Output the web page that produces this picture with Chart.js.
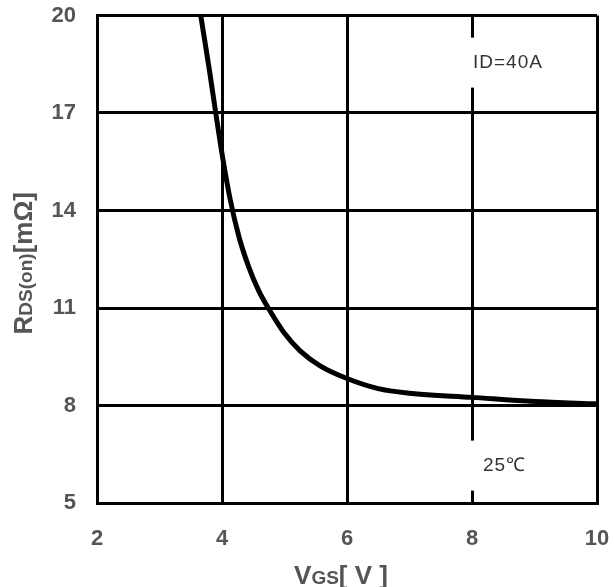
<!DOCTYPE html>
<html>
<head>
<meta charset="utf-8">
<script src="https://cdn.jsdelivr.net/npm/chart.js@4.4.1/dist/chart.umd.min.js"></script>
<style>
  html, body { margin: 0; padding: 0; background: #fff; }
  #wrap { width: 614px; height: 587px; }
</style>
</head>
<body>
<div id="wrap"><canvas id="myChart" width="614" height="587"></canvas></div>
<script>
// VGS [V] vs RDS(on) [mOhm]
var vgs  = [3.66, 3.8, 3.9, 4.0, 4.13, 4.27, 4.43, 4.59, 4.75, 5.0, 5.25, 5.57, 6.0, 6.5, 7.0, 8.0, 9.0, 10.0];
var rdson = [20.0, 18.3, 17.0, 15.75, 14.35, 13.2, 12.25, 11.52, 10.97, 10.22, 9.68, 9.22, 8.83, 8.52, 8.38, 8.25, 8.12, 8.05];

var xTicks = [2, 4, 6, 8, 10];
var yTicks = [5, 8, 11, 14, 17, 20];

var notes = [
  { text: 'ID=40A', x: 8, y: 18.55 },
  { text: '25\u2103', x: 8, y: 6.15 }
];

var labelColor = '#555555';
var fontFam = '"Liberation Sans", Arial, sans-serif';

// axis titles with small subscripts + the two notes over the 8V grid line
var extras = {
  id: 'extras',
  afterDatasetsDraw: function(chart) {
    var ctx = chart.ctx;
    var xs = chart.scales.x, ys = chart.scales.y;
    ctx.save();
    ctx.font = '19px ' + fontFam;
    ctx.letterSpacing = '1px';
    ctx.textBaseline = 'middle';
    notes.forEach(function(n, i) {
      var px = xs.getPixelForValue(n.x);
      var py = ys.getPixelForValue(n.y);
      var w = ctx.measureText(n.text).width;
      var off = i === 0 ? 1 : 11;
      ctx.fillStyle = '#fff';
      ctx.fillRect(px - 4, py - 25, w + off + 8, 50);
      ctx.fillStyle = '#333';
      ctx.fillText(n.text, px + off, py);
    });
    ctx.restore();
  },
  afterDraw: function(chart) {
    var ctx = chart.ctx;
    var a = chart.chartArea;
    function parts(list) {
      var w = 0;
      list.forEach(function(p) { ctx.font = 'bold ' + p[1] + 'px ' + fontFam; w += ctx.measureText(p[0]).width; });
      return w;
    }
    function draw(list, x, y) {
      list.forEach(function(p) {
        ctx.font = 'bold ' + p[1] + 'px ' + fontFam;
        ctx.fillText(p[0], x, y);
        x += ctx.measureText(p[0]).width;
      });
    }
    ctx.save();
    ctx.fillStyle = labelColor;
    ctx.textBaseline = 'alphabetic';
    ctx.textAlign = 'left';
    var xt = [['V', 26], ['GS', 19], ['[ V ]', 26]];
    var wx = parts(xt);
    draw(xt, (a.left + a.right) / 2 - 6 - wx / 2, 584);
    var yt = [['R', 26], ['DS(on)', 19], ['[m\u03A9]', 26]];
    var wy = parts(yt);
    ctx.translate(32, (a.top + a.bottom) / 2 + 4);
    ctx.rotate(-Math.PI / 2);
    draw(yt, -wy / 2, 0);
    ctx.restore();
  }
};

var points = vgs.map(function(v, i) { return { x: v, y: rdson[i] }; });

var ctx = document.getElementById('myChart').getContext('2d');
var chart = new Chart(ctx, {
  type: 'scatter',
  data: {
    datasets: [{
      data: points,
      showLine: true,
      borderColor: '#000',
      borderWidth: 5,
      pointRadius: 0,
      cubicInterpolationMode: 'monotone',
      fill: false
    }]
  },
  options: {
    responsive: false,
    animation: false,
    layout: { padding: { left: 0, top: 15.5, right: 17, bottom: 0 } },
    plugins: { legend: { display: false }, tooltip: { enabled: false } },
    scales: {
      x: {
        type: 'linear',
        min: 2, max: 10,
        afterBuildTicks: function(s) { s.ticks = xTicks.map(function(v) { return { value: v }; }); },
        afterFit: function(s) { s.height = 84; s.paddingLeft = 0; s.paddingRight = 0; },
        grid: { color: '#000', lineWidth: 3, drawTicks: false },
        border: { color: '#000', width: 3 },
        ticks: { color: labelColor, padding: 23, font: { family: fontFam, size: 22, weight: 'bold' } }
      },
      y: {
        type: 'linear',
        min: 5, max: 20,
        afterBuildTicks: function(s) { s.ticks = yTicks.map(function(v) { return { value: v }; }); },
        afterFit: function(s) { s.width = 97; s.paddingTop = 0; s.paddingBottom = 0; },
        grid: { color: '#000', lineWidth: 3, drawTicks: false },
        border: { color: '#000', width: 3 },
        ticks: { color: labelColor, padding: 21, font: { family: fontFam, size: 22, weight: 'bold' } }
      }
    }
  },
  plugins: [extras]
});
</script>
</body>
</html>
